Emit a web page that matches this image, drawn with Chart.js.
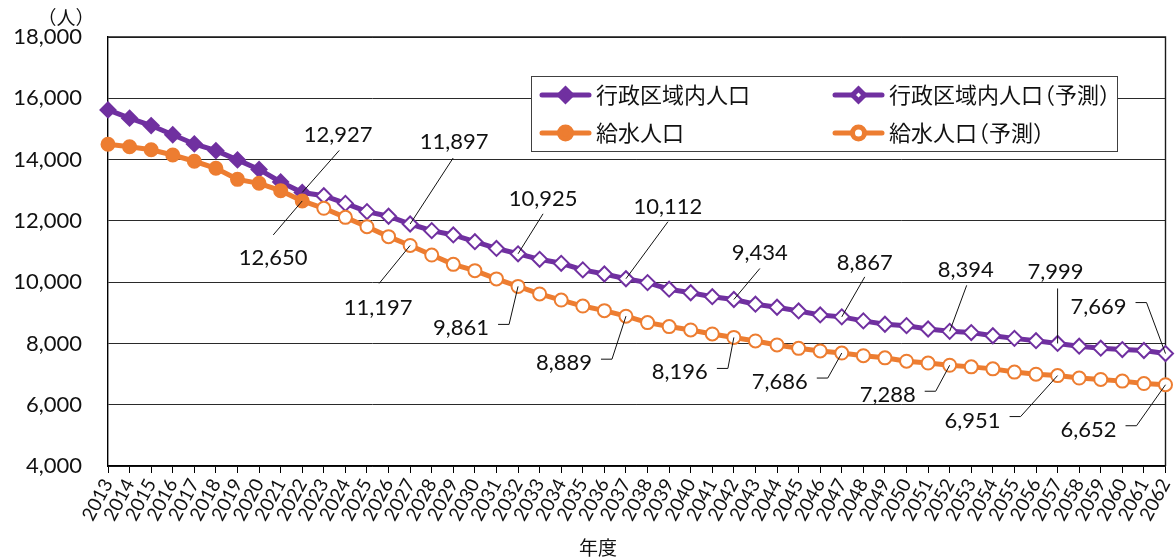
<!DOCTYPE html>
<html lang="ja">
<head>
<meta charset="utf-8">
<title>行政区域内人口と給水人口の推移</title>
<script src="https://cdn.jsdelivr.net/npm/chart.js@4.4.1/dist/chart.umd.min.js"></script>
<style>
  html, body { margin: 0; padding: 0; background: #fff; }
  #wrap { width: 1175px; height: 560px; position: relative; }
</style>
</head>
<body>
<div id="wrap"><canvas id="chart" width="1175" height="560"></canvas></div>
<script>
// 年度（横軸カテゴリ）
const years = [
  '2013','2014','2015','2016','2017','2018','2019','2020','2021','2022',
  '2023','2024','2025','2026','2027','2028','2029','2030','2031','2032',
  '2033','2034','2035','2036','2037','2038','2039','2040','2041','2042',
  '2043','2044','2045','2046','2047','2048','2049','2050','2051','2052',
  '2053','2054','2055','2056','2057','2058','2059','2060','2061','2062'
];

// 行政区域内人口 実績（2013〜2022）
const adminActual = [15620, 15350, 15110, 14810, 14510, 14290, 13990, 13680, 13270, 12927];
// 行政区域内人口 予測（2023〜2062）
const adminForecast = [
  12820, 12570, 12300, 12150, 11897, 11680, 11540, 11320, 11100, 10925,
  10745, 10615, 10400, 10265, 10112, 9985, 9770, 9655, 9525, 9434,
  9280, 9180, 9060, 8930, 8867, 8735, 8625, 8580, 8470, 8394,
  8355, 8250, 8165, 8090, 7999, 7910, 7845, 7800, 7770, 7669
];

// 給水人口 実績（2013〜2022）
const supplyActual = [14500, 14420, 14320, 14150, 13945, 13715, 13355, 13225, 12985, 12650];
// 給水人口 予測（2023〜2062）
const supplyForecast = [
  12410, 12115, 11810, 11485, 11197, 10885, 10580, 10375, 10105, 9861,
  9615, 9415, 9220, 9070, 8889, 8680, 8550, 8440, 8310, 8196,
  8080, 7950, 7840, 7755, 7686, 7600, 7530, 7420, 7360, 7288,
  7235, 7170, 7065, 6995, 6951, 6870, 6825, 6770, 6690, 6652
];

// 縦軸の目盛
const yTicks = [4000, 6000, 8000, 10000, 12000, 14000, 16000, 18000];

const seriesNames = ['行政区域内人口', '行政区域内人口（予測）', '給水人口', '給水人口（予測）'];
const PURPLE = '#7030A0';
const ORANGE = '#ED7D31';
const INK = '#111111';
const NUM_FONT = 'Lato, "Liberation Sans", sans-serif';
const JA_FONT = '"Noto Sans CJK JP", "Noto Sans", sans-serif';

// 系列全体（実績＋予測）: 値ラベル用
const adminAll = adminActual.concat(adminForecast);
const supplyAll = supplyActual.concat(supplyForecast);

const nulls = n => Array(n).fill(null);
const nAct = adminActual.length;
const adminActualData = adminActual.concat(nulls(years.length - nAct));
const adminForecastData = nulls(nAct - 1).concat([adminActual[nAct - 1]], adminForecast);
const supplyActualData = supplyActual.concat(nulls(years.length - supplyActual.length));
const supplyForecastData = nulls(nAct - 1).concat([supplyActual[supplyActual.length - 1]], supplyForecast);

// 値ラベルの配置（点からの文字位置と引き出し線）
const callouts = [
  { s: 'admin', year: '2022', dx: 36, dy: -58, lx: 1, ly: 16 },
  { s: 'admin', year: '2027', dx: 44, dy: -83, lx: -1, ly: 17 },
  { s: 'admin', year: '2032', dx: 25, dy: -56, lx: 0, ly: 16 },
  { s: 'admin', year: '2037', dx: 42, dy: -73, lx: 0, ly: 16 },
  { s: 'admin', year: '2042', dx: 26, dy: -47, lx: 0, ly: 16 },
  { s: 'admin', year: '2047', dx: 23, dy: -55, lx: 0, ly: 15 },
  { s: 'admin', year: '2052', dx: 16, dy: -62, lx: 1, ly: 16 },
  { s: 'admin', year: '2057', dx: -2, dy: -72, lx: 2, ly: 17 },
  { s: 'admin', year: '2062', dx: -67, dy: -48, elbow: true },
  { s: 'supply', year: '2022', dx: -29, dy: 56, lx: 0, ly: -22 },
  { s: 'supply', year: '2027', dx: -32, dy: 62, lx: 1, ly: -24 },
  { s: 'supply', year: '2032', dx: -57, dy: 41, elbow: true },
  { s: 'supply', year: '2037', dx: -62, dy: 46, elbow: true },
  { s: 'supply', year: '2042', dx: -54, dy: 34, elbow: true },
  { s: 'supply', year: '2047', dx: -62, dy: 28, elbow: true },
  { s: 'supply', year: '2052', dx: -62, dy: 29, elbow: true },
  { s: 'supply', year: '2057', dx: -85, dy: 44, elbow: true },
  { s: 'supply', year: '2062', dx: -77, dy: 44, elbow: true }
];

// 全角括弧を詰めて和文を描く
function drawJa(ctx, text, x, y, size) {
  ctx.font = size + 'px ' + JA_FONT;
  ctx.textAlign = 'left';
  ctx.textBaseline = 'middle';
  let cx = x;
  for (const ch of text) {
    if (ch === '（') { ctx.fillText(ch, cx - 0.45 * size, y); cx += 0.55 * size; }
    else if (ch === '）') { ctx.fillText(ch, cx, y); cx += 0.55 * size; }
    else { ctx.fillText(ch, cx, y); cx += ctx.measureText(ch).width; }
  }
}

const calloutPlugin = {
  id: 'callouts',
  afterDatasetsDraw(chart) {
    const ctx = chart.ctx;
    const xs = chart.scales.x, ys = chart.scales.y;
    ctx.save();
    ctx.font = '22px ' + NUM_FONT;
    ctx.fillStyle = INK;
    ctx.strokeStyle = INK;
    ctx.lineWidth = 1;
    for (const c of callouts) {
      const idx = years.indexOf(c.year);
      const v = (c.s === 'admin' ? adminAll : supplyAll)[idx];
      const px = xs.getPixelForValue(idx);
      const py = ys.getPixelForValue(v);
      const tx = px + c.dx, ty = py + c.dy;
      const text = v.toLocaleString('en-US');
      const w = ctx.measureText(text).width;
      ctx.beginPath();
      if (c.elbow) {
        const sx = tx + w / 2 + 9, sy = ty - 3;
        ctx.moveTo(sx, sy);
        ctx.lineTo(sx + 11, sy);
        ctx.lineTo(px, py);
      } else {
        ctx.moveTo(tx + c.lx, ty + c.ly);
        ctx.lineTo(px, py);
      }
      ctx.stroke();
      ctx.textAlign = 'center';
      ctx.textBaseline = 'alphabetic';
      ctx.fillText(text, tx, ty + 8);
    }
    ctx.restore();
  }
};

const framePlugin = {
  id: 'frame',
  beforeDatasetsDraw(chart) {
    const { ctx, chartArea: a } = chart;
    ctx.save();
    ctx.strokeStyle = '#1a1a1a';
    ctx.lineWidth = 1.4;
    ctx.beginPath();
    ctx.moveTo(a.left, a.top);
    ctx.lineTo(a.right, a.top);
    ctx.lineTo(a.right, a.bottom);
    ctx.stroke();
    ctx.restore();
  },
  afterDraw(chart) {
    const ctx = chart.ctx;
    ctx.save();
    // 凡例
    const L = 531, T = 76, W = 586, H = 75;
    ctx.fillStyle = '#ffffff';
    ctx.fillRect(L, T, W, H);
    ctx.strokeStyle = '#404040';
    ctx.lineWidth = 1;
    ctx.strokeRect(L + 0.5, T + 0.5, W, H);
    const entries = [
      { name: seriesNames[0], color: PURPLE, style: 'rectRot', open: false, x: 540, y: 95, r: 6 },
      { name: seriesNames[1], color: PURPLE, style: 'rectRot', open: true, x: 833, y: 95, r: 6 },
      { name: seriesNames[2], color: ORANGE, style: 'circle', open: false, x: 540, y: 133, r: 6 },
      { name: seriesNames[3], color: ORANGE, style: 'circle', open: true, x: 833, y: 133, r: 6 }
    ];
    for (const e of entries) {
      ctx.strokeStyle = e.color;
      ctx.lineWidth = 5;
      ctx.lineCap = 'round';
      ctx.beginPath();
      ctx.moveTo(e.x + 2, e.y);
      ctx.lineTo(e.x + 49, e.y);
      ctx.stroke();
      ctx.lineCap = 'butt';
      ctx.fillStyle = e.open ? '#ffffff' : e.color;
      ctx.strokeStyle = e.color;
      Chart.helpers.drawPoint(ctx, { pointStyle: e.style, radius: e.r, borderWidth: 2, rotation: 0 }, e.x + 25.5, e.y);
      ctx.fillStyle = INK;
      drawJa(ctx, e.name, e.x + 56, e.y, 22);
    }
    // 軸タイトル
    ctx.fillStyle = INK;
    drawJa(ctx, '（人）', 46, 18, 19);
    ctx.font = '19px ' + JA_FONT;
    ctx.textAlign = 'center';
    ctx.textBaseline = 'middle';
    ctx.fillText('年度', 598, 548);
    ctx.restore();
  }
};

const commonLine = { borderWidth: 5, tension: 0, clip: false, spanGaps: false, pointBorderWidth: 2 };

new Chart(document.getElementById('chart'), {
  type: 'line',
  data: {
    labels: years,
    datasets: [
      Object.assign({}, commonLine, {
        label: seriesNames[2], data: supplyActualData, order: 0,
        borderColor: ORANGE, backgroundColor: ORANGE,
        pointStyle: 'circle', pointRadius: 6.5,
        pointBackgroundColor: ORANGE, pointBorderColor: ORANGE
      }),
      Object.assign({}, commonLine, {
        label: seriesNames[0], data: adminActualData, order: 1,
        borderColor: PURPLE, backgroundColor: PURPLE,
        pointStyle: 'rectRot', pointRadius: 7.5,
        pointBackgroundColor: PURPLE, pointBorderColor: PURPLE
      }),
      Object.assign({}, commonLine, {
        label: seriesNames[3], data: supplyForecastData, order: 2,
        borderColor: ORANGE, backgroundColor: '#ffffff',
        pointStyle: 'circle',
        pointRadius: ctx => (ctx.dataIndex === nAct - 1 ? 0 : 6.5),
        pointBackgroundColor: '#ffffff', pointBorderColor: ORANGE
      }),
      Object.assign({}, commonLine, {
        label: seriesNames[1], data: adminForecastData, order: 3,
        borderColor: PURPLE, backgroundColor: '#ffffff',
        pointStyle: 'rectRot',
        pointRadius: ctx => (ctx.dataIndex === nAct - 1 ? 0 : 7.5),
        pointBackgroundColor: '#ffffff', pointBorderColor: PURPLE
      })
    ]
  },
  options: {
    responsive: false,
    animation: false,
    devicePixelRatio: 1,
    layout: { padding: { left: 0, right: 7, top: 37, bottom: 0 } },
    plugins: {
      legend: { display: false },
      tooltip: { enabled: false },
      title: { display: false }
    },
    scales: {
      x: {
        type: 'category',
        offset: false,
        grid: { drawOnChartArea: false, drawTicks: true, tickLength: 7, color: '#000000', lineWidth: 1 },
        border: { display: true, color: '#000000', width: 1.4 },
        ticks: {
          autoSkip: false, maxRotation: 62, minRotation: 62, padding: 2,
          color: INK, font: { family: NUM_FONT, size: 19 }
        },
        afterFit(scale) { scale.height = 94; scale.paddingLeft = 0; scale.paddingRight = 0; }
      },
      y: {
        min: yTicks[0], max: yTicks[yTicks.length - 1],
        afterBuildTicks(scale) { scale.ticks = yTicks.map(v => ({ value: v })); },
        grid: { drawTicks: false, color: '#2a2a2a', lineWidth: 1 },
        border: { display: true, color: '#000000', width: 1.4 },
        ticks: {
          padding: 26, color: INK, font: { family: NUM_FONT, size: 22 },
          callback: v => Number(v).toLocaleString('en-US')
        },
        afterFit(scale) { scale.width = 108; scale.paddingTop = 0; scale.paddingBottom = 0; }
      }
    }
  },
  plugins: [framePlugin, calloutPlugin]
});
</script>
</body>
</html>
